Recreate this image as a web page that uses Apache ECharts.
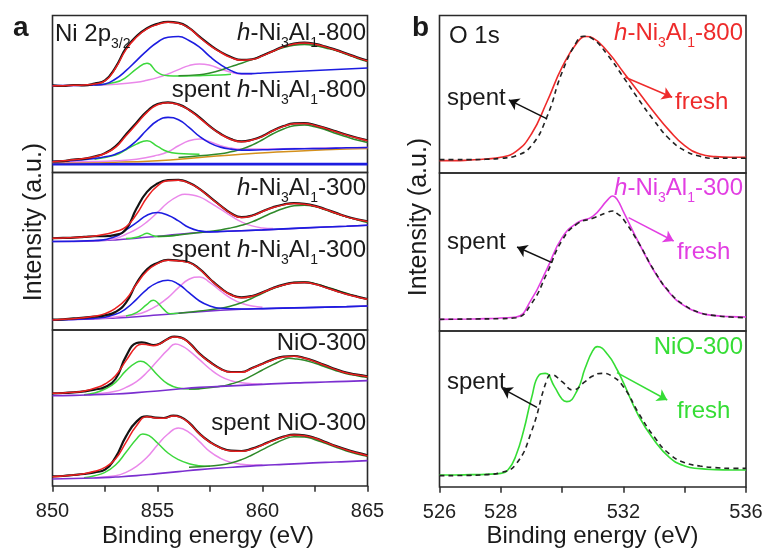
<!DOCTYPE html>
<html><head><meta charset="utf-8">
<script src="https://cdn.jsdelivr.net/npm/echarts@6/dist/echarts.min.js"></script>
<style>html,body{margin:0;padding:0;background:#fff}#c{width:769px;height:558px}</style>
</head><body><div id="c"></div>
<script>
// ---------- Panel a: Ni 2p3/2 (binding energy grid, 0.5 eV) ----------
const aEnergy = [850,850.5,851,851.5,852,852.5,853,853.5,854,854.5,855,855.5,856,856.5,857,857.5,858,858.5,859,859.5,860,860.5,861,861.5,862,862.5,863,863.5,864,864.5,865];
const aTickLabels = ['850','855','860','865'];
const bTickLabels = ['526','528','532','536'];

// h-Ni3Al1-800 (fresh)
const h800Fit = [260,260,261,262,265,274,312,368,405,430,443,450,447,432,405,380,360,344,336,338,349,363,376,385,388,384,376,366,355,344,334];
const h800Raw = [261,259,262,261,266,276,315,372,408,432,445,451,448,433,407,382,361,346,337,339,350,364,377,386,389,385,377,367,356,345,335];
const h800Blue = [[850,260],[852,262],[852.5,265],[853,280],[853.5,305],[854,335],[854.5,365],[855,390],[855.5,405],[856,407],[856.5,395],[857,375],[857.5,347],[858,323],[858.5,305],[859,296],[859.5,296],[860,298],[861,301],[862,304],[863,307],[864,310],[865,313]];
const h800Green = [[852,262],[853,270],[853.5,285],[854,310],[854.5,327],[855,300],[855.5,290],[856,289],[857,290],[858,292],[858.5,294]];
const h800Pink = [[850,260],[852,261],[853,264],[854,270],[854.5,276],[855,284],[855.5,295],[856,308],[856.5,320],[857,325],[857.5,321],[858,310],[858.5,300],[859,295],[859.5,295]];
const h800Sat = [[856,290],[857,293],[857.5,298],[858,306],[858.5,317],[859,327],[859.5,338],[860,350],[860.5,363],[861,374],[861.5,381],[862,383],[862.5,380],[863,373],[863.5,365],[864,354],[864.5,342],[865,332]];
// spent h-Ni3Al1-800
const s800Fit = [32,35,38,42,47,57,75,110,145,180,203,209,203,187,163,137,115,99,92,97,108,125,138,146,147,141,132,122,112,103,95];
const s800Raw = [33,34,39,41,48,58,78,114,149,183,205,210,204,188,165,138,116,100,93,98,109,126,139,147,148,142,133,123,113,104,96];
const s800Blue = [[850,33],[851,36],[852,42],[852.5,47],[853,55],[853.5,70],[854,95],[854.5,128],[855,155],[855.5,165],[856,158],[856.5,135],[857,108],[857.5,88],[858,76],[858.5,70],[859,67],[860,68],[861,70],[862,71],[863,72],[864,74],[865,75]];
const s800Green = [[852,40],[853,52],[853.5,68],[854,85],[854.5,95],[855,78],[855.5,62],[856,57],[857,55]];
const s800Pink = [[850,32],[852,33],[853,35],[854,40],[855,52],[855.5,62],[856,80],[856.5,95],[857,100],[857.5,92],[858,80],[858.5,73],[859,70],[860,70],[861,71],[862,72],[863,73],[864,74],[865,75]];
const s800Sat = [[856,45],[857,50],[858,56],[858.5,62],[859,70],[859.5,82],[860,98],[860.5,116],[861,130],[861.5,140],[862,142],[862.5,137],[863,128],[863.5,117],[864,107],[864.5,97],[865,90]];
const s800Base = [[850,30],[853,31],[855,35],[857,45],[859,55],[861,62],[863,68],[865,72]];
const s800Zero = [[850,25],[865,25]];

// h-Ni3Al1-300 (fresh)
const h300Fit = [273,274,275,277,280,285,293,307,345,395,430,445,447,438,420,395,370,347,335,340,353,365,373,377,375,369,359,348,337,329,323];
const h300Raw = [273,274,275,277,279,279,283,300,362,412,437,447,448,439,421,396,371,348,336,341,354,366,374,378,376,370,360,349,338,330,324];
const h300Base = [[850,263],[852,265],[853,268],[854,273],[855,279],[856,285],[857,290],[858,293],[860,298],[862,304],[864,309],[865,312]];
const h300Blue = [[850,263],[852,266],[853,278],[853.5,298],[854,320],[854.5,342],[855,350],[855.5,342],[856,325],[856.5,305],[857,295],[857.5,292],[858,293],[860,298],[862,304],[864,309],[865,312]];
const h300Pink = [[852,266],[853,272],[853.5,285],[854,300],[854.5,322],[855,350],[855.5,380],[856,400],[856.3,405],[856.5,404],[857,397],[857.5,380],[858,360],[858.5,340],[859,322],[859.5,310],[860,304],[860.5,302]];
const h300Green = [[853.5,272],[854,276],[854.3,283],[854.5,288],[854.7,283],[855,278],[855.5,279],[856,283]];
const h300Sat = [[855,278],[856,283],[857,290],[858,298],[858.5,304],[859,312],[859.5,322],[860,336],[860.5,350],[861,362],[861.5,370],[862,372],[862.5,368],[863,358],[863.5,347],[864,337],[864.5,328],[865,320]];
// spent h-Ni3Al1-300
const s300Fit = [28,30,32,35,39,47,63,90,135,175,197,207,205,200,180,150,123,103,95,99,110,123,133,139,140,135,125,115,105,97,90];
const s300Raw = [29,30,33,35,38,42,52,80,138,180,199,208,206,201,181,151,124,104,96,100,111,124,134,140,141,136,126,116,106,98,91];
const s300Base = [[850,28],[852,31],[853,34],[854,38],[855,43],[856,48],[857,53],[858,57],[859,60],[860,62],[862,65],[864,68],[865,70]];
const s300Blue = [[850,28],[852,33],[853,45],[853.5,62],[854,90],[854.5,120],[855,140],[855.5,147],[856,135],[856.5,110],[857,85],[857.5,70],[858,63],[859,61],[860,62],[862,65],[864,68],[865,70]];
const s300Green = [[853.5,40],[854,50],[854.5,75],[854.8,87],[855,80],[855.3,60],[855.6,47],[856,48]];
const s300Pink = [[852,32],[853,37],[854,45],[854.5,55],[855,72],[855.5,95],[856,125],[856.5,150],[857,157],[857.5,140],[858,115],[858.5,93],[859,78],[859.5,70],[860,66]];
const s300Sat = [[856,48],[857,55],[858,63],[858.5,70],[859,80],[859.5,93],[860,108],[860.5,122],[861,133],[861.5,140],[862,142],[862.5,137],[863,128],[863.5,118],[864,108],[864.5,98],[865,90]];

// NiO-300 (fresh)
const nioFit = [[850,277],[850.5,278],[851,280],[851.5,284],[852,292],[852.5,305],[853,330],[853.5,375],[854,418],[854.25,424],[854.5,423],[854.8,420],[855.1,425],[855.5,440],[855.8,446],[856.1,444],[856.5,428],[857,395],[857.5,370],[858,350],[858.5,340],[859,340],[859.5,352],[860,365],[860.5,378],[861,386],[861.5,388],[862,382],[862.5,372],[863,360],[863.5,348],[864,338],[864.5,332],[865,327]];
const nioRaw = [[850,277],[850.5,278],[851,280],[851.5,283],[852,288],[852.5,296],[853,320],[853.5,388],[854,428],[854.25,430],[854.5,427],[854.8,422],[855.1,426],[855.5,441],[855.8,447],[856.1,445],[856.5,429],[857,396],[857.5,371],[858,351],[858.5,341],[859,341],[859.5,353],[860,366],[860.5,379],[861,387],[861.5,389],[862,383],[862.5,373],[863,361],[863.5,349],[864,339],[864.5,333],[865,328]];
const nioBase = [[850,270],[851,271],[852,273],[853,275],[854,279],[855,284],[856,290],[857,295],[858,298],[859,301],[860,304],[861,307],[862,309],[863,311],[864,313],[865,315]];
const nioGreen = [[851.5,273],[852,278],[852.5,290],[853,310],[853.5,345],[854,370],[854.2,373],[854.5,365],[855,332],[855.5,305],[856,293],[856.5,290],[857,291]];
const nioPink = [[851.5,272],[852,275],[853,283],[853.5,295],[854,312],[854.5,340],[855,375],[855.5,408],[855.85,425],[856.2,418],[856.5,405],[857,378],[857.5,350],[858,328],[858.5,315],[859,309],[859.5,306],[860,305]];
const nioSat = [[856.5,290],[857,291],[858,298],[858.5,305],[859,315],[859.5,330],[860,347],[860.5,363],[861,378],[861.25,382],[861.5,381],[862,376],[862.5,367],[863,356],[863.5,345],[864,336],[864.5,330],[865,325]];
// spent NiO-300
const snioFit = [[850,27],[850.5,29],[851,32],[851.5,36],[852,43],[852.5,55],[853,80],[853.5,130],[854,180],[854.5,207],[854.9,203],[855.3,202],[855.75,209],[856.1,205],[856.5,188],[857,155],[857.5,130],[858,113],[858.5,104],[859,103],[859.5,110],[860,122],[860.5,135],[861,146],[861.5,152],[862,150],[862.5,142],[863,130],[863.5,118],[864,107],[864.5,98],[865,90]];
const snioRaw = [[850,28],[850.5,29],[851,32],[851.5,35],[852,40],[852.5,48],[853,85],[853.5,148],[854,192],[854.5,208],[854.9,204],[855.3,203],[855.75,210],[856.1,206],[856.5,189],[857,156],[857.5,131],[858,114],[858.5,105],[859,104],[859.5,111],[860,123],[860.5,136],[861,147],[861.5,153],[862,151],[862.5,143],[863,131],[863.5,119],[864,108],[864.5,99],[865,91]];
const snioBase = [[850,20],[852,23],[853,26],[854,30],[855,36],[856,42],[857,48],[858,53],[859,57],[860,61],[861,64],[862,67],[863,70],[864,72],[865,75]];
const snioGreen = [[851.5,24],[852,30],[852.5,40],[853,62],[853.5,100],[854,140],[854.3,155],[854.6,150],[855,128],[855.5,98],[856,78],[856.5,66],[857,60],[857.5,58]];
const snioPink = [[852,24],[853,30],[853.5,40],[854,58],[854.5,85],[855,122],[855.5,155],[856,173],[856.5,160],[857,132],[857.5,102],[858,82],[858.5,70],[859,64],[859.5,62],[860,62]];
const snioSat = [[856.5,55],[857,57],[858,62],[858.5,68],[859,78],[859.5,92],[860,108],[860.5,124],[861,138],[861.5,147],[862,146],[862.5,138],[863,127],[863.5,115],[864,104],[864.5,95],[865,88]];

// ---------- Panel b: O 1s ----------
const o800Fresh = [[526,35],[526.5,35],[527,37],[527.5,40],[528,45],[528.5,63],[529,115],[529.5,210],[530,315],[530.5,390],[530.8,407],[531,403],[531.5,360],[532,300],[532.5,240],[533,180],[533.5,125],[534,80],[534.5,55],[535,47],[535.5,45],[536,45]];
const o800Spent = [[526,38],[526.5,38],[527,38],[527.5,39],[528,42],[528.5,50],[529,80],[529.5,165],[530,300],[530.5,395],[530.7,408],[531,400],[531.5,350],[532,285],[532.5,218],[533,155],[533.5,100],[534,65],[534.5,48],[535,42],[535.5,42],[536,42]];
const o300Fresh = [[526,33],[527,34],[527.5,35],[528,37],[528.5,40],[529,93],[529.5,183],[530,278],[530.5,323],[531,342],[531.5,393],[531.65,403],[531.8,392],[532,356],[532.5,263],[533,178],[533.5,113],[534,73],[534.5,52],[535,44],[535.5,41],[536,40]];
const o300Spent = [[526,33],[527,34],[528,35],[528.5,38],[529,80],[529.5,170],[530,270],[530.5,320],[531,336],[531.5,355],[531.65,358],[531.8,350],[532,333],[532.5,262],[533,180],[533.5,115],[534,75],[534.5,53],[535,44],[535.5,40],[536,38]];
const onioFresh = [[526,35],[526.5,35],[527,36],[527.5,37],[528,40],[528.25,52],[528.5,95],[528.75,170],[529,265],[529.25,335],[529.45,340],[529.75,300],[530,262],[530.15,255],[530.5,290],[530.75,355],[531,408],[531.15,420],[531.5,395],[531.8,350],[532,312],[532.5,212],[533,140],[533.5,88],[534,62],[534.5,54],[535,51],[535.5,50],[536,50]];
const onioSpent = [[526,33],[527,34],[527.5,36],[528,42],[528.5,68],[529,165],[529.5,320],[529.65,336],[530,315],[530.35,290],[530.75,315],[531,332],[531.3,340],[531.6,333],[532,300],[532.5,220],[533,150],[533.5,98],[534,72],[534.5,62],[535,57],[535.5,55],[536,55]];

// arrows (data coordinates: from curve to label)
const arrows = [
  {g:3, from:[529.51,160], to:[528.26,217], c:'#111'},
  {g:3, from:[532.06,285], to:[533.59,225], c:'#ee2b2b'},
  {g:4, from:[529.67,203], to:[528.53,250], c:'#111'},
  {g:4, from:[532.17,338], to:[533.64,268], c:'#e23ee2'},
  {g:5, from:[529.18,238], to:[528.04,295], c:'#111'},
  {g:5, from:[531.79,342], to:[533.43,260], c:'#35dd35'}
];

// ---------- styling ----------
const FF = "'Liberation Sans', Arial, Helvetica, sans-serif";
const RED='#ec2020', BLACK='#141414', BLUE='#1c1ce0', GREEN='#3cd83c', PINK='#ea88ea', DKGREEN='#2f8a2a', PURPLE='#7b2fd0', ORANGE='#d4901c';
const FRAME='#2a2a2a';
const rows = [
  {l:52.5, w:315, t:15.5, h:157, ymin:0, ymax:470},
  {l:52.5, w:315, t:172.5, h:157.5, ymin:-2, ymax:470},
  {l:52.5, w:315, t:330, h:156, ymin:-1, ymax:467},
  {l:439.5, w:306.5, t:15.5, h:157.5, ymin:-2, ymax:470},
  {l:439.5, w:306.5, t:173, h:158, ymin:-2, ymax:472},
  {l:439.5, w:306.5, t:331, h:156, ymin:-1, ymax:467}
];
const zip = arr => arr.map((v,i)=>[aEnergy[i], v]);

const grids = rows.map(r=>({left:r.l, top:r.t, width:r.w, height:r.h, show:true, borderColor:FRAME, borderWidth:1.6, backgroundColor:'transparent', containLabel:false}));
const xAxes = rows.map((r,i)=>{
  const isA = i<3, bottom = (i===2||i===5);
  return {
    type:'value', gridIndex:i, min: isA?850:526, max: isA?865:536, interval: isA?2.5:2,
    show: bottom,
    axisLine:{show:false},
    axisTick:{show:true, inside:false, length:6, lineStyle:{color:FRAME, width:1.5}},
    axisLabel:{show:true, margin:15, fontSize:20, fontFamily:FF, color:'#222',
      formatter: v => { const s=String(v); return (isA?aTickLabels:bTickLabels).includes(s)?s:''; }},
    splitLine:{show:false}
  };
});
const yAxes = rows.map((r,i)=>({type:'value', gridIndex:i, min:r.ymin, max:r.ymax, show:false, splitLine:{show:false}}));

function ln(g, data, color, width, extra){
  return Object.assign({type:'line', xAxisIndex:g, yAxisIndex:g, data, showSymbol:false, symbol:'none',
    smooth:0.5, silent:true, animation:false, lineStyle:{color, width}}, extra||{});
}
const S = [];
// a1
S.push(ln(0,h800Pink,PINK,1.5), ln(0,h800Green,GREEN,1.5), ln(0,h800Sat,DKGREEN,1.5), ln(0,h800Blue,BLUE,1.6),
       ln(0,zip(h800Raw),BLACK,2.2), ln(0,zip(h800Fit),RED,1.5));
S.push(ln(0,s800Zero,BLUE,2.6), ln(0,s800Base,ORANGE,1.5), ln(0,s800Pink,PINK,1.5), ln(0,s800Green,GREEN,1.5),
       ln(0,s800Sat,DKGREEN,1.5), ln(0,s800Blue,BLUE,1.6), ln(0,zip(s800Raw),BLACK,2.2), ln(0,zip(s800Fit),RED,1.5));
// a2
S.push(ln(1,h300Base,PURPLE,1.5), ln(1,h300Pink,PINK,1.5), ln(1,h300Green,GREEN,1.5), ln(1,h300Sat,DKGREEN,1.5),
       ln(1,h300Blue,BLUE,1.6), ln(1,zip(h300Raw),BLACK,2.2), ln(1,zip(h300Fit),RED,1.5));
S.push(ln(1,s300Base,PURPLE,1.5), ln(1,s300Pink,PINK,1.5), ln(1,s300Green,GREEN,1.5), ln(1,s300Sat,DKGREEN,1.5),
       ln(1,s300Blue,BLUE,1.6), ln(1,zip(s300Raw),BLACK,2.2), ln(1,zip(s300Fit),RED,1.5));
// a3
S.push(ln(2,nioPink,PINK,1.5), ln(2,nioGreen,GREEN,1.5), ln(2,nioSat,DKGREEN,1.5), ln(2,nioBase,PURPLE,1.6),
       ln(2,nioRaw,BLACK,2.2), ln(2,nioFit,RED,1.5));
S.push(ln(2,snioPink,PINK,1.5), ln(2,snioGreen,GREEN,1.5), ln(2,snioSat,DKGREEN,1.5), ln(2,snioBase,PURPLE,1.6),
       ln(2,snioRaw,BLACK,2.2), ln(2,snioFit,RED,1.5));
// b
S.push(ln(3,o800Fresh,'#ee2b2b',1.6), ln(3,o800Spent,'#222',1.6,{lineStyle:{color:'#222',width:1.6,type:[5,4]}}));
S.push(ln(4,o300Fresh,'#e23ee2',1.6), ln(4,o300Spent,'#222',1.6,{lineStyle:{color:'#222',width:1.6,type:[5,4]}}));
S.push(ln(5,onioFresh,'#35dd35',1.6), ln(5,onioSpent,'#222',1.6,{lineStyle:{color:'#222',width:1.6,type:[5,4]}}));
arrows.forEach(a=>{
  S.push({type:'line', xAxisIndex:a.g, yAxisIndex:a.g, data:[], silent:true, animation:false,
    markLine:{silent:true, animation:false, symbol:['none','arrow'], symbolSize:10,
      label:{show:false}, emphasis:{disabled:true},
      lineStyle:{type:'solid', color:a.c, width:1.5},
      data:[[{coord:a.from},{coord:a.to}]]}});
});

// ---------- texts ----------
function txt(x, y, text, color, align, size, extra){
  size = size||24;
  return Object.assign({type:'text', x, y, z:100, silent:true, style:{
    text, fill:color, fontSize:size, fontFamily:FF, lineHeight:34,
    align, textAlign:align, verticalAlign:'middle', textVerticalAlign:'middle',
    rich:{
      i:{fontStyle:'italic', fontSize:size, fontFamily:FF, fill:color, lineHeight:34},
      s:{fontSize:14, fontFamily:FF, fill:color, lineHeight:14, verticalAlign:'bottom'}
    }}}, extra||{});
}
const K='#1a1a1a';
const G = [
  txt(13,28,'a',K,'left',28,{style:{text:'a',fill:K,fontSize:28,fontWeight:'bold',fontFamily:FF,align:'left',textAlign:'left',verticalAlign:'middle',textVerticalAlign:'middle'}}),
  txt(412,28,'b',K,'left',28,{style:{text:'b',fill:K,fontSize:28,fontWeight:'bold',fontFamily:FF,align:'left',textAlign:'left',verticalAlign:'middle',textVerticalAlign:'middle'}}),
  txt(55,34,'Ni 2p{s|3/2}',K,'left'),
  txt(366,33,'{i|h}-Ni{s|3}Al{s|1}-800',K,'right'),
  txt(366,90.5,'spent {i|h}-Ni{s|3}Al{s|1}-800',K,'right'),
  txt(366,188,'{i|h}-Ni{s|3}Al{s|1}-300',K,'right'),
  txt(366,250.5,'spent {i|h}-Ni{s|3}Al{s|1}-300',K,'right'),
  txt(366,343,'NiO-300',K,'right'),
  txt(366,423,'spent NiO-300',K,'right'),
  txt(449,36,'O 1s',K,'left'),
  txt(743,33,'{i|h}-Ni{s|3}Al{s|1}-800','#ee2b2b','right'),
  txt(447,98.5,'spent',K,'left'),
  txt(675,102,'fresh','#ee2b2b','left'),
  txt(743,188.5,'{i|h}-Ni{s|3}Al{s|1}-300','#e23ee2','right'),
  txt(447,242.5,'spent',K,'left'),
  txt(677,252.4,'fresh','#e23ee2','left'),
  txt(743,347,'NiO-300','#35dd35','right'),
  txt(447,382.5,'spent',K,'left'),
  txt(677,411.4,'fresh','#35dd35','left'),
  txt(208,536,'Binding energy (eV)',K,'center'),
  txt(592.5,536,'Binding energy (eV)',K,'center'),
  txt(34,222,'Intensity (a.u.)',K,'center',25,{rotation:Math.PI/2}),
  txt(419,217,'Intensity (a.u.)',K,'center',25,{rotation:Math.PI/2})
];

const chart = echarts.init(document.getElementById('c'), null, {renderer:'canvas'});
chart.setOption({
  animation:false, backgroundColor:'#fff',
  grid:grids, xAxis:xAxes, yAxis:yAxes, series:S, graphic:G
});
</script></body></html>
